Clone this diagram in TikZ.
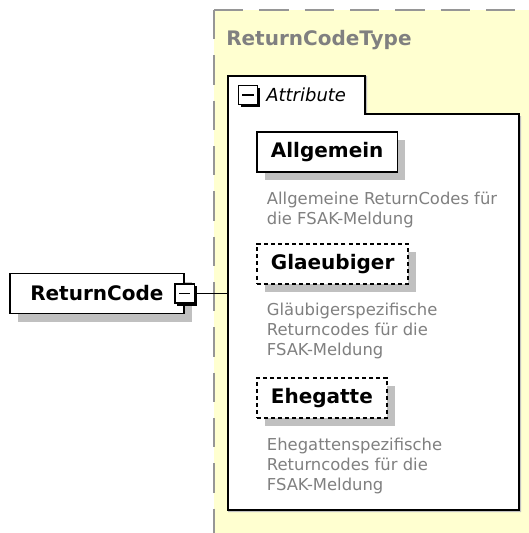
\documentclass[tikz,border=0pt]{standalone}
\usepackage{fontspec}
\setmainfont{DejaVu Sans}
\usetikzlibrary{shadows, positioning}

\definecolor{typeyellow}{RGB}{255,255,208}
\definecolor{descgray}{RGB}{128,128,128}
\definecolor{shadowgray}{RGB}{192,192,192}
\definecolor{dashgray}{RGB}{150,150,150}

\begin{document}
\begin{tikzpicture}[
	x=0.75pt, y=-0.75pt,
	every node/.style={font=\fontsize{15pt}{18pt}\selectfont\bfseries},
	element/.style={rectangle, draw, fill=white, line width=1.3pt, minimum height=30pt, inner xsep=10.5pt,
		drop shadow={shadow xshift=6pt, shadow yshift=-6pt, fill=shadowgray, opacity=1}},
	optional/.style={element, dash pattern=on 3pt off 2.3pt},
	expander/.style={rectangle, draw, fill=white, line width=1.1pt, minimum size=14.5pt, inner sep=0pt,
		drop shadow={shadow xshift=1.8pt, shadow yshift=-1.8pt, fill=black, opacity=1},
		path picture={\draw[line width=1pt] ([xshift=3pt]path picture bounding box.west) -- ([xshift=-3pt]path picture bounding box.east);}},
	desc/.style={font=\fontsize{12.3pt}{15pt}\selectfont, text=descgray, align=left, inner sep=0pt},
	typeframe/.style={dashgray, line width=1.5pt, dash pattern=on 22pt off 12pt}
	]
	\useasboundingbox (0,0) rectangle (529,533);
	
	% Type area
	\fill[typeyellow] (214,10) rectangle (529,533);
	\draw[typeframe] (214,10) -- (529,10);
	\draw[typeframe] (214,10) -- (214,533);
	\node[text=descgray, anchor=west, inner sep=0pt] (typename) at (226,40) {ReturnCodeType};
	
	% Attribute group
	\coordinate (grpnw) at (228,76);
	\fill[shadowgray, shift={(2,2)}] (grpnw) -| (365,114) -| (519,510) -| (grpnw) -- cycle;
	\draw[fill=white, line width=1.1pt] (grpnw) -| (365,114) -| (519,510) -| (grpnw) -- cycle;
	\node[expander] (grpexp) at (248,95) {};
	\node[font=\fontsize{13.5pt}{16pt}\selectfont\itshape, anchor=west, inner sep=0pt] (grplabel) at (266,95) {Attribute};
	
	% Elements
	\node[element, minimum width=130.5pt, anchor=west] (rc) at (9,293.5) {ReturnCode};
	\node[expander] (rcexp) at (rc.east) {};
	\node[element, anchor=west] (allg) at (256,152) {Allgemein};
	\node[optional, anchor=west] (glae) at (256,264) {Glaeubiger};
	\node[optional, anchor=west] (ehe) at (256,398) {Ehegatte};
	
	% Descriptions
	\node[desc, below right=14pt and 8pt of allg.south west] (allgdesc) {Allgemeine ReturnCodes für\\die FSAK-Meldung};
	\node[desc, below right=13.5pt and 8pt of glae.south west] (glaedesc) {Gläubigerspezifische\\Returncodes für die\\FSAK-Meldung};
	\node[desc, below right=14pt and 8pt of ehe.south west] (ehedesc) {Ehegattenspezifische\\Returncodes für die\\FSAK-Meldung};
	
	% Connector
	\draw[line width=0.8pt] (rcexp.east) -- (rcexp -| grpnw);
\end{tikzpicture}
\end{document}
